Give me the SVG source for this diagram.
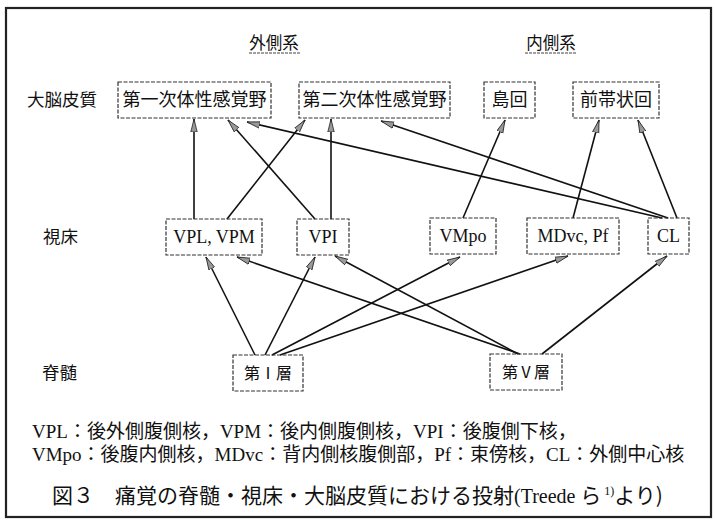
<svg xmlns="http://www.w3.org/2000/svg" width="715" height="522" viewBox="0 0 715 522">
<style>
.t{font-family:"Liberation Serif","Noto Sans CJK JP",serif;fill:#111}
.g{font-family:"Noto Sans CJK JP","Liberation Sans",sans-serif;fill:#111}
.box{fill:none;stroke:#333;stroke-width:1.2;stroke-dasharray:4 1.5}
.c{fill:none;stroke:#111;stroke-width:1.6;marker-end:url(#ah)}
.lbl{font-size:17.5px}
.bt{font-size:18px;text-anchor:middle;dominant-baseline:central}
.bl{font-size:18px}
.leg{font-size:19px}
</style>
<defs>
<marker id="ah" markerUnits="userSpaceOnUse" markerWidth="14" markerHeight="8" refX="13" refY="4" orient="auto">
<path d="M0,0.8 L13,4 L0,7.2 z" fill="#999" stroke="#222" stroke-width="0.8"/>
</marker>
</defs>
<rect x="6" y="8" width="705" height="509" fill="#fff" stroke="#222" stroke-width="2.2"/>

<g id="headers">
<text class="t" x="274" y="49" font-size="16.5" text-anchor="middle">外側系</text>
<line x1="249" y1="53" x2="301" y2="53" stroke="#444" stroke-width="1.2" stroke-dasharray="3 1"/>
<text class="t" x="551" y="49" font-size="16.5" text-anchor="middle">内側系</text>
<line x1="525" y1="53" x2="577" y2="53" stroke="#444" stroke-width="1.2" stroke-dasharray="3 1"/>
</g>

<g id="row-labels">
<text class="t lbl" x="27" y="106">大脳皮質</text>
<text class="t lbl" x="43" y="243">視床</text>
<text class="t lbl" x="42" y="379">脊髄</text>
</g>

<g id="connectors">
<line class="c" x1="194" y1="219" x2="194" y2="119"/>
<line class="c" x1="227" y1="219" x2="305" y2="120"/>
<line class="c" x1="315" y1="219" x2="228" y2="120"/>
<line class="c" x1="331" y1="219" x2="331" y2="119"/>
<line class="c" x1="463" y1="218" x2="505" y2="120"/>
<line class="c" x1="573" y1="218" x2="599" y2="120"/>
<line class="c" x1="677" y1="218" x2="638" y2="120"/>
<line class="c" x1="662" y1="218" x2="247" y2="122"/>
<line class="c" x1="668" y1="218" x2="381" y2="121"/>
<line class="c" x1="255" y1="355" x2="206" y2="257"/>
<line class="c" x1="265" y1="355" x2="315" y2="257"/>
<line class="c" x1="272" y1="355" x2="460" y2="257"/>
<line class="c" x1="280" y1="355" x2="568" y2="256"/>
<line class="c" x1="520" y1="354" x2="237" y2="257"/>
<line class="c" x1="518" y1="354" x2="335" y2="256"/>
<line class="c" x1="542" y1="354" x2="667" y2="256"/>
</g>

<g id="n-s1"><rect class="box" x="118" y="82" width="153" height="36"/><text class="t bt" x="194.5" y="100">第一次体性感覚野</text></g>
<g id="n-s2"><rect class="box" x="299" y="82" width="151" height="36"/><text class="t bt" x="374.5" y="100">第二次体性感覚野</text></g>
<g id="n-insula"><rect class="box" x="484" y="82" width="51" height="36"/><text class="t bt" x="509.5" y="100">島回</text></g>
<g id="n-acc"><rect class="box" x="573" y="82" width="86" height="36"/><text class="t bt" x="616" y="100">前帯状回</text></g>

<g id="n-vplvpm"><rect class="box" x="166" y="219" width="96" height="36"/><text class="t bt bl" x="214" y="237">VPL, VPM</text></g>
<g id="n-vpi"><rect class="box" x="297" y="219" width="52" height="36"/><text class="t bt bl" x="323" y="237">VPI</text></g>
<g id="n-vmpo"><rect class="box" x="430" y="218" width="66" height="36"/><text class="t bt bl" x="463" y="236">VMpo</text></g>
<g id="n-mdvc"><rect class="box" x="527" y="218" width="92" height="36"/><text class="t bt bl" x="573" y="236">MDvc, Pf</text></g>
<g id="n-cl"><rect class="box" x="648" y="218" width="41" height="36"/><text class="t bt bl" x="668.5" y="236">CL</text></g>

<g id="n-lam1"><rect class="box" x="233" y="355" width="70" height="36"/><text class="t bt" x="268" y="373" style="font-size:16px">第Ⅰ層</text></g>
<g id="n-lam5"><rect class="box" x="490" y="354" width="72" height="36"/><text class="t bt" x="526" y="372" style="font-size:16px">第Ⅴ層</text></g>

<g id="legend">
<text class="t leg" x="32" y="438">VPL：後外側腹側核，VPM：後内側腹側核，VPI：後腹側下核，</text>
<text class="t leg" x="32" y="461">VMpo：後腹内側核，MDvc：背内側核腹側部，Pf：束傍核，CL：外側中心核</text>
</g>

<g id="caption">
<text class="g" x="52" y="503" font-size="21">図３　痛覚の脊髄・視床・大脳皮質における投射<tspan class="t" font-size="20">(Treede</tspan> ら<tspan class="t" font-size="12" dy="-8"> 1)</tspan><tspan dy="8">より)</tspan></text>
</g>
</svg>
